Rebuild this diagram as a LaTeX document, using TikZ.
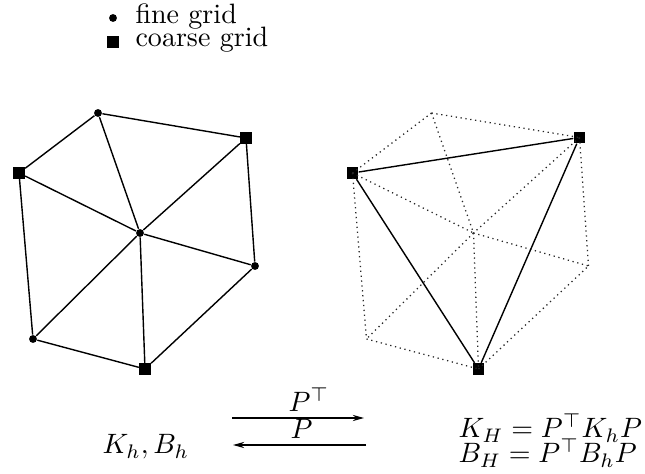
\documentclass[tikz,border=0pt]{standalone}
\usetikzlibrary{arrows.meta}
\begin{document}
\begin{tikzpicture}[x=0.357pt,y=-0.357pt,
  fine/.style={circle,fill=black,inner sep=0pt,minimum size=2.8pt},
  coarse/.style={rectangle,fill=black,inner sep=0pt,minimum size=4pt},
  pt/.style={inner sep=0pt,minimum size=0pt},
  edge/.style={line width=0.5pt},
  dotedge/.style={line width=0.45pt,dash pattern=on 0.45pt off 1.3pt,black!85},
  lbl/.style={inner sep=0pt,anchor=base west},
  arr/.style={line width=0.5pt,-{Stealth[length=4pt,width=2.2pt]}}]
\useasboundingbox (0,0) rectangle (645,474);
% legend
\node[fine] (lf) at (113,18) {};
\node[coarse] (lf2) at (113,42) {};
\node[lbl] (tf) at (135,24) {fine grid};
\node[lbl] (tc) at (135,47) {coarse grid};
% left mesh
\node[fine] (T) at (98,113) {};
\node[coarse] (TR) at (246,138) {};
\node[coarse] (L) at (19,173) {};
\node[fine] (C) at (140,233) {};
\node[fine] (R) at (255,266) {};
\node[fine] (BL) at (33,339) {};
\node[coarse] (B) at (145,369) {};
\foreach \a/\b in {T/TR,T/L,T/C,TR/C,TR/R,L/C,L/BL,C/R,C/BL,C/B,BL/B,B/R}
  \draw[edge] (\a) -- (\b);
% right mesh
\node[pt] (rT) at (431.5,113) {};
\node[coarse] (rTR) at (579.5,137.5) {};
\node[coarse] (rL) at (352.5,173) {};
\node[pt] (rC) at (473.5,233) {};
\node[pt] (rR) at (588.5,266) {};
\node[pt] (rBL) at (366.5,339) {};
\node[coarse] (rB) at (478.5,369) {};
\foreach \a/\b in {T/TR,T/L,T/C,TR/C,TR/R,L/C,L/BL,C/R,C/BL,C/B,BL/B,B/R}
  \draw[dotedge] (r\a.center) -- (r\b.center);
\draw[edge] (rL) -- (rTR) -- (rB) -- (rL);
% bottom formulas
\node[lbl] (kh) at (102,454) {$K_h, B_h$};
\coordinate (a1s) at (232,418);
\coordinate (a1e) at (364,418);
\coordinate (a2s) at (366,445);
\coordinate (a2e) at (233,445);
\draw[arr] (a1s) -- (a1e);
\draw[arr] (a2s) -- (a2e);
\node[lbl] (pt1) at (288,412) {$P^\top$};
\node[lbl] (pt2) at (290,439) {$P$};
\node[lbl] (e1) at (458,438) {$K_H = P^\top K_h P$};
\node[lbl] (e2) at (458,463) {$B_H = P^\top B_h P$};
\end{tikzpicture}
\end{document}
